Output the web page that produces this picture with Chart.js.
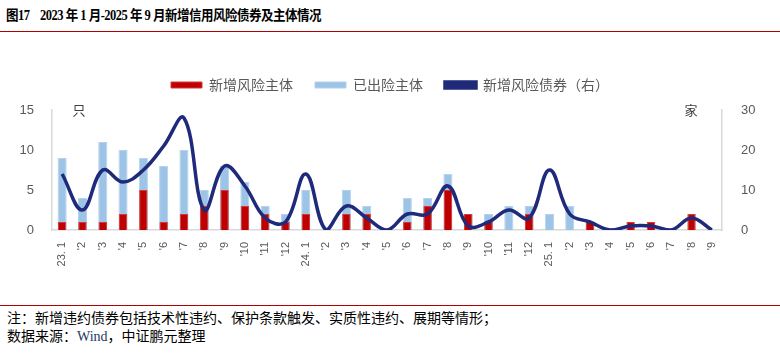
<!DOCTYPE html>
<html>
<head>
<meta charset="utf-8">
<script src="https://cdn.jsdelivr.net/npm/chart.js@4/dist/chart.umd.min.js"></script>
<style>
  body { margin: 0; width: 780px; height: 353px; background: #fff; position: relative; overflow: hidden; }
  #title { position: absolute; left: 6px; top: 3px; font: bold 12.5px "Liberation Serif", "Noto Sans CJK SC"; letter-spacing: -0.5px; color: #000; white-space: pre; transform: scaleY(1.12); transform-origin: left top; }
  .rule { position: absolute; left: 0; width: 780px; height: 1px; background: #b00000; }
  #box { position: absolute; left: 0; top: 36px; width: 780px; height: 264px; }
  .note { position: absolute; left: 7px; font: 14px "Noto Sans CJK SC", "Liberation Serif"; color: #000; white-space: pre; }
  .note span { font-family: "Liberation Serif"; color: #1f3864; }
</style>
</head>
<body>
<div id="title">图17    2023 年 1 月-2025 年 9 月新增信用风险债券及主体情况</div>
<div class="rule" style="top:31px"></div>
<div id="box"><canvas id="myChart"></canvas></div>
<div class="rule" style="top:305px"></div>
<div class="note" style="top:307px">注：新增违约债券包括技术性违约、保护条款触发、实质性违约、展期等情形；</div>
<div class="note" style="top:325px">数据来源：<span>Wind</span>，中证鹏元整理</div>
<script>
const months = ["23. 1", "'2", "'3", "'4", "'5", "'6", "'7", "'8", "'9", "'10", "'11", "'12",
  "24. 1", "'2", "'3", "'4", "'5", "'6", "'7", "'8", "'9", "'10", "'11", "'12",
  "25. 1", "'2", "'3", "'4", "'5", "'6", "'7", "'8", "'9"];
// 新增风险主体（左轴，只）
const newEntities = [1, 1, 1, 2, 5, 1, 2, 3, 5, 3, 2, 1,
  2, 0, 2, 2, 0, 1, 3, 5, 2, 1, 0, 2,
  0, 0, 1, 0, 1, 1, 0, 2, 0];
// 已出险主体（左轴）
const riskEntities = [9, 4, 11, 10, 9, 8, 10, 5, 8, 6, 3, 2,
  5, 0, 5, 3, 0, 4, 4, 7, 2, 2, 3, 3,
  2, 3, 1, 0, 0, 0, 0, 0, 0];
// 新增风险债券（右轴，家）
const newBonds = [14, 5, 15, 12, 15, 21, 28, 5, 16, 11, 3, 2,
  14, 0, 6, 3, 0, 4, 4, 11, 1, 2, 5, 3,
  15, 4, 2, 0, 1, 1, 0, 3, 0];

const axisGrey = "#d9d9d9";
const textGrey = "#595959";

// extra space between legend and plot
const legendGap = {
  id: "legendGap",
  beforeInit(chart) {
    const fit = chart.legend.fit;
    chart.legend.fit = function () {
      fit.bind(chart.legend)();
      this.height += 8;
    };
  }
};

const unitLabels = {
  id: "unitLabels",
  afterDraw(chart) {
    const { ctx, chartArea } = chart;
    ctx.save();
    ctx.font = '13px "Noto Sans CJK SC"';
    ctx.fillStyle = "#404040";
    ctx.textAlign = "center";
    ctx.textBaseline = "middle";
    ctx.fillText("只", chartArea.left + 27, chartArea.top);
    ctx.fillText("家", chartArea.right - 31, chartArea.top);
    ctx.restore();
  }
};

const ctx = document.getElementById("myChart").getContext("2d");
new Chart(ctx, {
  data: {
    labels: months,
    datasets: [
      {
        type: "bar",
        label: "新增风险主体",
        data: newEntities,
        yAxisID: "y",
        backgroundColor: "#c00000",
        borderColor: "#d33a3a",
        borderWidth: 1,
        grouped: false,
        categoryPercentage: 0.8,
        barPercentage: 0.52,
        order: 1
      },
      {
        type: "bar",
        label: "已出险主体",
        data: riskEntities,
        yAxisID: "y",
        backgroundColor: "#9dc3e6",
        borderColor: "#b4d2ee",
        borderWidth: 1,
        grouped: false,
        categoryPercentage: 0.8,
        barPercentage: 0.56,
        order: 2
      },
      {
        type: "line",
        label: "新增风险债券（右）",
        data: newBonds,
        yAxisID: "y1",
        borderColor: "#1f2a7a",
        backgroundColor: "#1f2a7a",
        borderWidth: 3.5,
        pointRadius: 0,
        tension: 0.4,
        order: 0
      }
    ]
  },
  options: {
    responsive: true,
    maintainAspectRatio: false,
    animation: false,
    layout: { padding: { top: 20, left: 0, right: 0, bottom: 0 } },
    plugins: {
      legend: {
        position: "top",
        labels: {
          boxWidth: 31,
          boxHeight: 6,
          padding: 22,
          color: textGrey,
          font: { size: 14, family: '"Noto Sans CJK SC"' },
          sort: (a, b) => a.datasetIndex - b.datasetIndex
        }
      },
      tooltip: { enabled: false }
    },
    scales: {
      x: {
        grid: { display: false },
        border: { color: axisGrey, width: 1.5 },
        ticks: {
          minRotation: 90,
          maxRotation: 90,
          autoSkip: false,
          padding: 4,
          color: textGrey,
          font: { size: 11, family: '"Liberation Sans"' }
        },
        afterFit: (scale) => { scale.height = 70; }
      },
      y: {
        position: "left",
        min: 0,
        max: 15,
        grid: { display: false },
        border: { color: axisGrey, width: 1.5 },
        ticks: {
          stepSize: 5,
          padding: 10,
          color: textGrey,
          font: { size: 13, family: '"Liberation Sans"' }
        },
        afterFit: (scale) => { scale.width = 52; }
      },
      y1: {
        position: "right",
        min: 0,
        max: 30,
        grid: { display: false },
        border: { color: axisGrey, width: 1.5 },
        ticks: {
          stepSize: 10,
          padding: 11,
          color: textGrey,
          font: { size: 13, family: '"Liberation Sans"' }
        },
        afterFit: (scale) => { scale.width = 58; }
      }
    }
  },
  plugins: [legendGap, unitLabels]
});
</script>
</body>
</html>
